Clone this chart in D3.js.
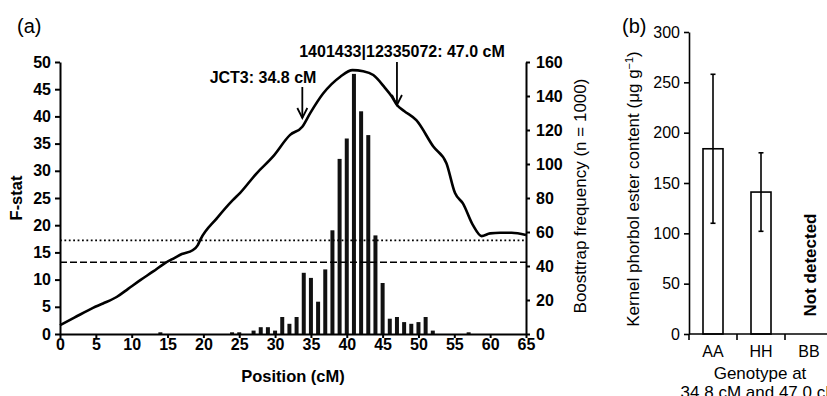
<!DOCTYPE html>
<meta charset="utf-8">
<script src="https://d3js.org/d3.v7.min.js"></script>
<style>
body { margin: 0; background: #fff; }
svg { font-family: "Liberation Sans", Arial, sans-serif; }
.axA path, .axA line { stroke: #000; stroke-width: 2; }
.axA text { font-size: 16px; font-weight: bold; fill: #000; font-family: "Liberation Sans", Arial, sans-serif; }
.axB path, .axB line { stroke: #000; stroke-width: 1.6; }
.axB text { font-size: 16px; fill: #000; font-family: "Liberation Sans", Arial, sans-serif; }
</style>
<div id="chart"></div>
<script>
// panel (a): F-stat profile along the linkage group
var fPos  = [0, 2, 4.6, 6, 7.9, 9.5, 11.2, 13, 14.6, 16, 17, 18.5, 19.2, 19.6, 21.9, 24.1, 25.1, 27.4, 29.7, 32.1, 33.8, 34.9, 36.7, 39.1, 40.8, 42.3, 43.7, 45.3, 46.2, 47, 48, 49.7, 52.1, 53.9, 55.1, 56.2, 57.6, 58.8, 60, 61.4, 63, 65];
var fStat = [1.6, 3.0, 4.8, 5.6, 6.8, 8.3, 9.9, 11.5, 13, 14, 14.7, 15.4, 16.3, 17.4, 21.3, 24.6, 25.9, 29.5, 32.6, 36.6, 38.1, 40.6, 44.2, 47.3, 48.5, 48.3, 47.6, 45.3, 43.8, 42.1, 41.0, 39.3, 34.4, 31.4, 25.9, 24, 20, 18, 18.5, 18.6, 18.6, 18.2];

// bootstrap frequency (n = 1000) per cM
var bootPos  = [14, 24, 25, 27, 28, 29, 30, 31, 32, 33, 34, 35, 36, 37, 38, 39, 40, 41, 42, 43, 44, 45, 46, 47, 48, 49, 50, 51, 52, 57];
var bootFreq = [1, 1, 1, 2, 4, 4, 2, 10, 6, 10, 36, 33, 19, 38, 61, 103, 115, 153, 131, 117, 58, 30, 9, 10, 7, 6, 7, 10, 2, 1];

// thresholds (F-stat)
var thrDotted = 17.2;
var thrDashed = 13.2;

// marker annotations
var markerLabels = ["JCT3: 34.8 cM", "1401433|12335072: 47.0 cM"];
var markerPos = [33.8, 47.0];

// panel (b): kernel phorbol ester content by genotype
var genotypes = ["AA", "HH", "BB"];
var pheMean = [184, 141, null];
var pheSD   = [74, 39, null];

var W = 827, H = 396;
var svg = d3.select("#chart").append("svg")
  .attr("width", W).attr("height", H);

// ---------- panel (a) ----------
var x = d3.scaleLinear().domain([0, 65]).range([60, 526]);
var yF = d3.scaleLinear().domain([0, 50]).range([334, 62]);
var yB = d3.scaleLinear().domain([0, 160]).range([334, 62]);

// bars
svg.append("g").selectAll("rect")
  .data(bootPos)
  .enter().append("rect")
    .attr("x", function(d) { return x(d) - 2; })
    .attr("width", 4)
    .attr("y", function(d, i) { return yB(bootFreq[i]); })
    .attr("height", function(d, i) { return yB(0) - yB(bootFreq[i]); })
    .attr("fill", "#111");

// threshold lines
svg.append("line")
  .attr("x1", x(0)).attr("x2", x(65))
  .attr("y1", yF(thrDotted)).attr("y2", yF(thrDotted))
  .attr("stroke", "#000").attr("stroke-width", 1.8)
  .attr("stroke-dasharray", "1.8,2.6");
svg.append("line")
  .attr("x1", x(0)).attr("x2", x(65))
  .attr("y1", yF(thrDashed)).attr("y2", yF(thrDashed))
  .attr("stroke", "#000").attr("stroke-width", 1.6)
  .attr("stroke-dasharray", "7,3");

// F-stat curve
var line = d3.line()
  .x(function(d, i) { return x(fPos[i]); })
  .y(function(d) { return yF(d); })
  .curve(d3.curveMonotoneX);
svg.append("path")
  .datum(fStat)
  .attr("d", line)
  .attr("fill", "none")
  .attr("stroke", "#000")
  .attr("stroke-width", 2.6);

// axes
svg.append("g").attr("class", "axA")
  .attr("transform", "translate(0,334)")
  .call(d3.axisBottom(x).tickValues(d3.range(0, 66, 5)).tickSize(4).tickSizeOuter(0).tickPadding(1));
svg.append("g").attr("class", "axA")
  .attr("transform", "translate(60,0)")
  .call(d3.axisLeft(yF).tickValues(d3.range(0, 51, 5)).tickSize(5).tickSizeOuter(0).tickPadding(4));
svg.append("g").attr("class", "axA")
  .attr("transform", "translate(526,0)")
  .call(d3.axisRight(yB).tickValues(d3.range(0, 161, 20)).tickSize(4).tickSizeOuter(0).tickPadding(6));

// axis titles
svg.append("text")
  .attr("transform", "translate(22,198) rotate(-90)")
  .attr("text-anchor", "middle")
  .style("font-size", "16.5px").style("font-weight", "bold")
  .text("F-stat");
svg.append("text")
  .attr("x", 293).attr("y", 382)
  .attr("text-anchor", "middle")
  .style("font-size", "16.5px").style("font-weight", "bold")
  .text("Position (cM)");
svg.append("text")
  .attr("transform", "translate(586,196) rotate(-90)")
  .attr("text-anchor", "middle")
  .style("font-size", "17px")
  .text("Boosttrap frequency (n = 1000)");

// marker arrows and labels
var arrowTop = [87, 62], arrowBot = [118, 105];
var labelX = [263, 402], labelY = [83, 57];
markerPos.forEach(function(p, i) {
  var ax = x(p);
  svg.append("line")
    .attr("x1", ax).attr("x2", ax)
    .attr("y1", arrowTop[i]).attr("y2", arrowBot[i])
    .attr("stroke", "#000").attr("stroke-width", 1.8);
  svg.append("path")
    .attr("d", "M" + (ax - 5) + "," + (arrowBot[i] - 10) + "L" + ax + "," + arrowBot[i] + "L" + (ax + 5) + "," + (arrowBot[i] - 10))
    .attr("fill", "none").attr("stroke", "#000").attr("stroke-width", 1.8);
  svg.append("text")
    .attr("x", labelX[i]).attr("y", labelY[i])
    .attr("text-anchor", "middle")
    .style("font-size", "16px").style("font-weight", "bold")
    .text(markerLabels[i]);
});

svg.append("text").attr("x", 17).attr("y", 33)
  .style("font-size", "20px").text("(a)");

// ---------- panel (b) ----------
var xb = d3.scaleBand().domain(genotypes).range([689, 833]);
var yb = d3.scaleLinear().domain([0, 300]).range([334, 32]);
var bw = 20;

var gb = svg.append("g");
gb.selectAll("rect")
  .data(genotypes.filter(function(d, i) { return pheMean[i] != null; }))
  .enter().append("rect")
    .attr("x", function(d) { return xb(d) + xb.bandwidth() / 2 - bw / 2; })
    .attr("width", bw)
    .attr("y", function(d) { return yb(pheMean[genotypes.indexOf(d)]); })
    .attr("height", function(d) { return yb(0) - yb(pheMean[genotypes.indexOf(d)]); })
    .attr("fill", "#fff").attr("stroke", "#000").attr("stroke-width", 1.6);

genotypes.forEach(function(g, i) {
  if (pheMean[i] == null) return;
  var cx = xb(g) + xb.bandwidth() / 2;
  var hi = yb(pheMean[i] + pheSD[i]), lo = yb(pheMean[i] - pheSD[i]);
  gb.append("line").attr("x1", cx).attr("x2", cx).attr("y1", hi).attr("y2", lo)
    .attr("stroke", "#000").attr("stroke-width", 1.6);
  gb.append("line").attr("x1", cx - 2.5).attr("x2", cx + 2.5).attr("y1", hi).attr("y2", hi)
    .attr("stroke", "#000").attr("stroke-width", 1.6);
  gb.append("line").attr("x1", cx - 2.5).attr("x2", cx + 2.5).attr("y1", lo).attr("y2", lo)
    .attr("stroke", "#000").attr("stroke-width", 1.6);
});

svg.append("g").attr("class", "axB")
  .attr("transform", "translate(689,0)")
  .call(d3.axisLeft(yb).tickValues(d3.range(0, 301, 50)).tickSize(5).tickSizeOuter(0).tickPadding(4));

// x axis of (b): ticks between categories
var axb = svg.append("g").attr("class", "axB");
axb.append("path").attr("d", "M689,334H833").attr("fill", "none");
axb.selectAll("line.tk").data(genotypes).enter().append("line")
  .attr("class", "tk")
  .attr("x1", function(d) { return xb(d); }).attr("x2", function(d) { return xb(d); })
  .attr("y1", 334).attr("y2", 340);
axb.selectAll("text").data(genotypes).enter().append("text")
  .attr("x", function(d) { return xb(d) + xb.bandwidth() / 2; })
  .attr("y", 357)
  .attr("text-anchor", "middle")
  .text(function(d) { return d; });

svg.append("text").attr("x", 760).attr("y", 379)
  .attr("text-anchor", "middle").style("font-size", "17px")
  .text("Genotype at");
svg.append("text").attr("x", 760).attr("y", 398)
  .attr("text-anchor", "middle").style("font-size", "17px")
  .text("34.8 cM and 47.0 cM");

svg.append("text")
  .attr("transform", "translate(816,265) rotate(-90)")
  .attr("text-anchor", "middle")
  .style("font-size", "17px").style("font-weight", "bold")
  .text("Not detected");

var kl = svg.append("text")
  .attr("transform", "translate(639,189) rotate(-90)")
  .attr("text-anchor", "middle")
  .style("font-size", "17px");
kl.append("tspan").text("Kernel phorbol ester content (\u03bcg g");
kl.append("tspan").attr("dy", -6).style("font-size", "11px").text("\u22121");
kl.append("tspan").attr("dy", 6).text(")");

svg.append("text").attr("x", 622).attr("y", 33)
  .style("font-size", "20px").text("(b)");
</script>
